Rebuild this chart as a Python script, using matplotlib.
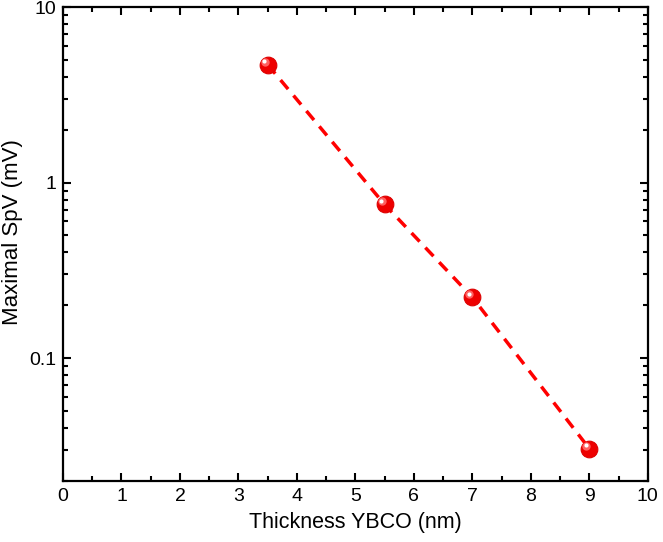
import matplotlib
matplotlib.use("Agg")
import matplotlib.pyplot as plt
import matplotlib.transforms as mtransforms
from matplotlib.ticker import LogLocator, FixedLocator, MultipleLocator, FuncFormatter

plt.rcParams["font.family"] = ["Liberation Sans", "DejaVu Sans"]
plt.rcParams["font.size"] = 12

# data
thickness = [3.5, 5.5, 7.0, 9.0]
max_spv = [4.7, 0.75, 0.222, 0.0305]

fig = plt.figure(figsize=(6.63, 5.42), dpi=100)
ax = fig.add_axes([0.095, 0.113, 0.882, 0.874])

ax.plot(thickness, max_spv, color="red", lw=2.5, ls=(0, (3.4, 2.4)), zorder=2)

# ball-style markers: red base, lighter core, white highlight up-left
ax.plot(thickness, max_spv, ls="none", marker="o", ms=12, mfc="#ee0000",
        mec="#dd0000", mew=0.8, zorder=3)
off = mtransforms.ScaledTranslation(-2.2 / 72, 2.2 / 72, fig.dpi_scale_trans)
ax.plot(thickness, max_spv, ls="none", marker="o", ms=6, mfc="#ff6060",
        mec="none", zorder=4, transform=ax.transData + off)
off2 = mtransforms.ScaledTranslation(-2.6 / 72, 2.6 / 72, fig.dpi_scale_trans)
ax.plot(thickness, max_spv, ls="none", marker="o", ms=3, mfc="white",
        mec="none", zorder=5, transform=ax.transData + off2)

ax.set_yscale("log")
ax.set_xlim(0, 10)
ax.set_ylim(0.02, 10)
ax.xaxis.set_major_locator(MultipleLocator(1))
ax.xaxis.set_minor_locator(MultipleLocator(0.5))
ax.yaxis.set_major_locator(FixedLocator([0.1, 1, 10]))
ax.yaxis.set_minor_locator(LogLocator(base=10, subs=range(2, 10)))
ax.yaxis.set_major_formatter(FuncFormatter(lambda v, p: f"{v:g}"))
ax.yaxis.set_minor_formatter(FuncFormatter(lambda v, p: ""))

ax.tick_params(which="both", direction="in", top=True, right=True, width=1.5)
ax.tick_params(which="major", length=6, labelsize=14, pad=5)
ax.tick_params(which="minor", length=3.5)
for s in ax.spines.values():
    s.set_linewidth(1.6)

ax.set_xlabel("Thickness YBCO (nm)", fontsize=15.5, labelpad=5)
ax.set_ylabel("Maximal SpV (mV)", fontsize=16)
ax.yaxis.set_label_coords(-0.068, 0.525)

fig.savefig("out.png", dpi=100)
